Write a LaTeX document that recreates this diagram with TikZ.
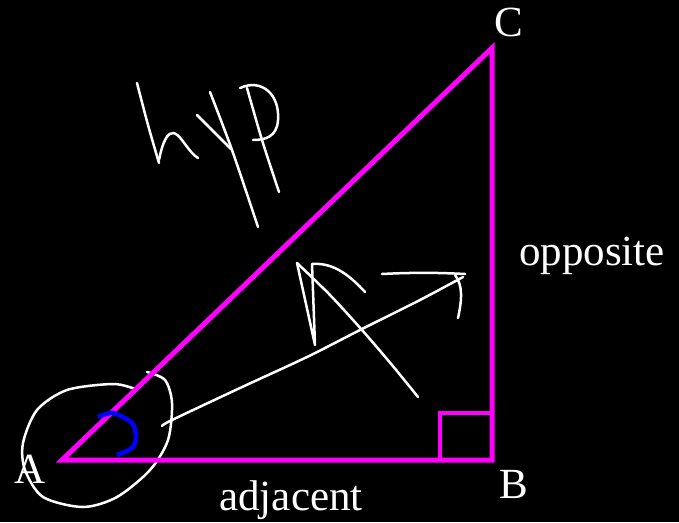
\documentclass[tikz,border=0pt]{standalone}
\usepackage{fontspec}
\setmainfont{Liberation Serif}
\definecolor{sidepink}{RGB}{255,0,255}
\definecolor{arcblue}{RGB}{0,0,255}
\begin{document}
\begin{tikzpicture}[x=1pt,y=-1pt,
  side/.style={line width=5pt,sidepink},
  ink/.style={white,line width=2.5pt,line cap=round,line join=round},
  lbl/.style={white,font=\fontsize{43}{50}\selectfont,anchor=base,inner sep=0pt}]
\fill[black] (0,0) rectangle (679,522);
\useasboundingbox (0,0) rectangle (679,522);
% handwritten notes
\draw[ink] plot[smooth] coordinates {(135,389) (113,384) (67,390) (37,410) (23,443) (25,470) (43,497) (83,507) (117,497) (150,470) (168,440) (172,403) (165,380) (147,372)};
\draw[ink] plot[smooth] coordinates {(162,426) (172,420) (240,388) (307,357) (360,330) (420,300) (463,277)};
\draw[ink] (382,274) .. controls (420,272) and (445,273) .. (465,274);
\draw[ink] (455,275) .. controls (463,285) and (462,300) .. (458,318);
\draw[ink] plot[smooth] coordinates {(418,397) (392,365) (362,330) (330,295) (297,263)};
\draw[ink] (297,263) -- (315,345) -- (312,264) .. controls (335,262) and (352,278) .. (365,292);
% hyp
\draw[ink] plot[smooth] coordinates {(137,83) (148,125) (159,163)};
\draw[ink] (159,160) .. controls (163,140) and (168,132) .. (174,133) .. controls (182,136) and (188,152) .. (198,158);
\draw[ink] (197,115) -- (231,149);
\draw[ink] plot[smooth] coordinates {(210,92) (232,150) (258,227)};
\draw[ink] plot[smooth] coordinates {(247,88) (262,140) (279,192)};
\draw[ink] (240,88) .. controls (262,78) and (280,95) .. (278,120) .. controls (277,137) and (265,140) .. (253,140);
% triangle
\coordinate (A) at (62,460);
\coordinate (B) at (492,460);
\coordinate (C) at (492,48);
\draw[side] (A) -- (B) -- (C) -- cycle;
\draw[side,line width=4pt] (440,460) -- (440,413) -- (492,413);
\draw[arcblue,line width=4.5pt] plot[smooth] coordinates {(98,417) (113,413) (132,423) (136,437) (132,448) (117,455)};
% labels
\node[lbl] (lblC) at (509,36) {C};
\node[lbl] (lblA) at (30,483) {A};
\node[lbl] (lblB) at (514,498) {B};
\node[lbl] (lblopp) at (592,265) {opposite};
\node[lbl] (lbladj) at (291,510) {adjacent};
\end{tikzpicture}
\end{document}
